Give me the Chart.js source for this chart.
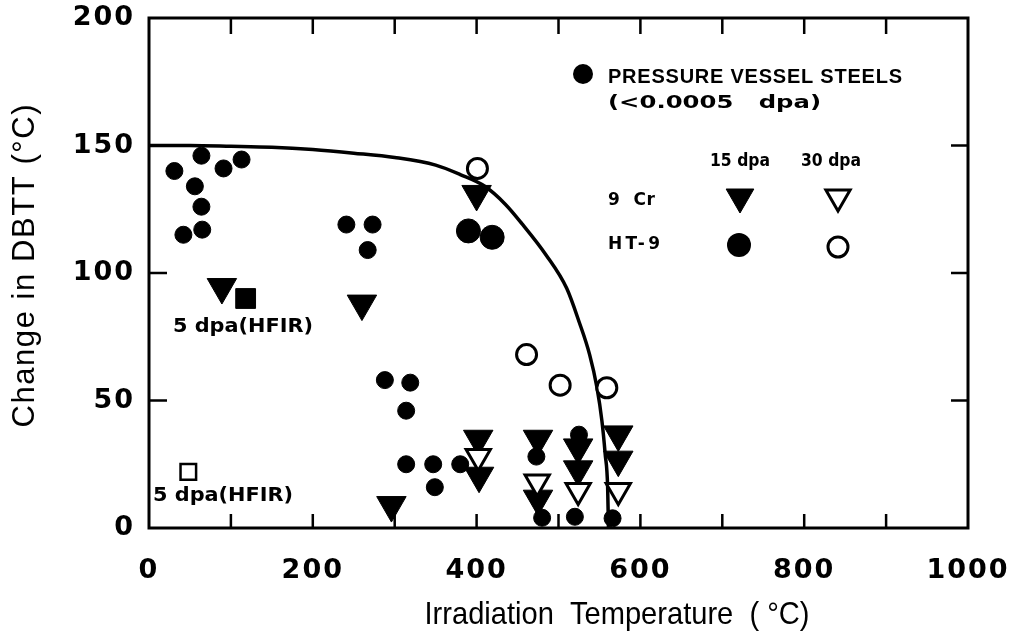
<!DOCTYPE html>
<html>
<head>
<meta charset="utf-8">
<script src="https://cdn.jsdelivr.net/npm/chart.js@4.4.1/dist/chart.umd.min.js"></script>
<style>
  html, body { margin: 0; padding: 0; background: #fff; }
  canvas { display: block; }
</style>
</head>
<body>
<canvas id="chart" width="1009" height="642"></canvas>
<script>
// Axis ticks
const xTickLabels = [0, 200, 400, 600, 800, 1000];
const yTickLabels = [0, 50, 100, 150, 200];
const xMinorTicks = [100, 200, 300, 400, 500, 600, 700, 800, 900];
const yMinorTicks = [50, 100, 150];

// Pressure vessel steels (<0.0005 dpa): irradiation temperature, change in DBTT
const pvSteelT = [31, 42, 56, 64, 64, 65, 91, 113, 241, 267, 273, 288, 314, 314, 319, 347, 349, 380];
const pvSteelD = [140, 115, 134, 146, 126, 117, 141, 144.5, 119, 109, 119, 58, 46, 25, 57, 25, 16, 25];

// 9 Cr, 15 dpa
const cr9At15T = [400, 260, 296, 402, 403, 475, 475, 524, 524, 573, 573];
const cr9At15D = [131, 88, 9, 35, 20.5, 35, 11.5, 31.6, 23, 36.7, 26.8];

// 9 Cr, 30 dpa
const cr9At30T = [402, 474, 524, 573];
const cr9At30D = [28, 18, 14.7, 14.7];

// HT-9, 15 dpa
const ht9At15T = [390, 419];
const ht9At15D = [116.5, 114];
const ht9At15LowT = [473, 480, 520, 525, 566];
const ht9At15LowD = [28, 4, 4.4, 36.6, 3.8];

// HT-9, 30 dpa
const ht9At30T = [401, 461, 502, 559];
const ht9At30D = [141, 68, 56, 55];

// HFIR, 5 dpa
const hfirTriT = [89];
const hfirTriD = [94.5];
const hfirFilledSqT = [118];
const hfirFilledSqD = [90];
const hfirOpenSqT = [48];
const hfirOpenSqD = [22];

// Trend curve
const curveT = [0, 50, 100, 150, 200, 250, 300, 350, 380, 410, 435, 455, 485, 510, 525, 538, 547, 553, 557, 560, 561];
const curveD = [150, 150, 149.7, 149.3, 148.4, 147, 145.3, 142.3, 138.6, 134, 127, 119.5, 107, 94, 81, 68, 55, 42, 29, 16, 0];

// Text labels placed in data space
const hfirLabels = [
  { text: '5 dpa(HFIR)', t: 29.3, d: 78.9 },
  { text: '5 dpa(HFIR)', t: 4.9, d: 12.8 }
];

const pts = (xs, ys) => xs.map((v, i) => ({ x: v, y: ys[i] }));

// Draws text into a given width: squeezes or stretches the glyphs, or spreads the letters
function fitText(ctx, text, x, y, width, font, align, stretch) {
  ctx.save();
  ctx.font = font;
  ctx.letterSpacing = '0px';
  ctx.textBaseline = 'middle';
  ctx.textAlign = 'left';
  const n = [...text].length;
  const w0 = ctx.measureText(text).width;
  const left = align === 'center' ? x - width / 2 : x;
  if (w0 > width || stretch) {
    ctx.translate(left, y);
    ctx.scale(width / w0, 1);
    ctx.fillText(text, 0, 0);
  } else {
    ctx.letterSpacing = ((width - w0) / Math.max(1, n - 1)) + 'px';
    ctx.fillText(text, left, y);
  }
  ctx.restore();
}

const BLACK = '#000';
const tickFont = { family: '"DejaVu Sans", sans-serif', size: 27, weight: 'bold' };
const SANS = '"Liberation Sans", Arial, sans-serif';
const WIDE = '"DejaVu Sans", sans-serif';

const spacingPlugin = {
  id: 'tickSpacing',
  beforeDraw(chart) { chart.ctx.letterSpacing = '2px'; }
};

const framePlugin = {
  id: 'frame',
  beforeDatasetsDraw(chart) {
    const { ctx, chartArea: a, scales: { x, y } } = chart;
    ctx.save();
    ctx.letterSpacing = '0px';
    ctx.strokeStyle = BLACK;
    ctx.lineWidth = 3;
    ctx.strokeRect(a.left, a.top, a.right - a.left, a.bottom - a.top);
    ctx.lineWidth = 2.5;
    ctx.beginPath();
    xMinorTicks.forEach(v => {
      const p = x.getPixelForValue(v);
      ctx.moveTo(p, a.bottom); ctx.lineTo(p, a.bottom - 14);
      ctx.moveTo(p, a.top); ctx.lineTo(p, a.top + 16);
    });
    yMinorTicks.forEach(v => {
      const p = y.getPixelForValue(v);
      ctx.moveTo(a.left, p); ctx.lineTo(a.left + 18, p);
      ctx.moveTo(a.right, p); ctx.lineTo(a.right - 17, p);
    });
    ctx.stroke();
    ctx.restore();
  }
};

const annotationPlugin = {
  id: 'annotations',
  afterDraw(chart) {
    const { ctx, chartArea: a, scales: { x, y } } = chart;
    const dp = Chart.helpers.drawPoint;
    ctx.save();
    ctx.fillStyle = BLACK;
    ctx.strokeStyle = BLACK;

    // Axis titles
    fitText(ctx, 'Irradiation  Temperature  ( °C)', 617, 615, 385, '32px ' + SANS, 'center');
    ctx.save();
    ctx.translate(25, 266);
    ctx.rotate(-Math.PI / 2);
    fitText(ctx, 'Change in DBTT (°C)', 0, 0, 323, '31px ' + SANS, 'center');
    ctx.restore();

    // HFIR labels
    const lf = 'bold 20px ' + WIDE;
    hfirLabels.forEach(l => {
      fitText(ctx, l.text, x.getPixelForValue(l.t), y.getPixelForValue(l.d), 140, lf, 'left', true);
    });

    // Key
    const L = a.left, T = a.top;
    const kf = 'bold 17px ' + WIDE;
    ctx.fillStyle = BLACK;
    dp(ctx, { pointStyle: 'circle', radius: 10, borderWidth: 0 }, L + 434, T + 56);
    fitText(ctx, 'PRESSURE VESSEL STEELS', L + 459, T + 59, 294, 'bold 20px ' + SANS, 'left');
    fitText(ctx, '(<0.0005   dpa)', L + 459, T + 85, 213, 'bold 18px ' + WIDE, 'left', true);
    fitText(ctx, '15 dpa', L + 561, T + 144, 60, kf, 'left');
    fitText(ctx, '30 dpa', L + 652, T + 144, 60, kf, 'left');
    fitText(ctx, '9  Cr', L + 459, T + 183, 47, kf, 'left');
    fitText(ctx, 'HT-9', L + 459, T + 227, 52, kf, 'left');

    ctx.lineWidth = 1;
    dp(ctx, { pointStyle: 'triangle', rotation: 180, radius: 16, borderWidth: 1 }, L + 591, T + 179);
    dp(ctx, { pointStyle: 'circle', radius: 12, borderWidth: 0 }, L + 590, T + 227);
    ctx.fillStyle = '#fff';
    ctx.lineWidth = 3;
    dp(ctx, { pointStyle: 'triangle', rotation: 180, radius: 14, borderWidth: 3 }, L + 689, T + 179);
    dp(ctx, { pointStyle: 'circle', radius: 10, borderWidth: 3 }, L + 689, T + 229);
    ctx.restore();
  }
};

const filled = { backgroundColor: BLACK, borderColor: BLACK, showLine: false };
const hollow = { backgroundColor: '#fff', borderColor: BLACK, showLine: false };

function noOverhang(s) {
  s.paddingLeft = 0; s.paddingRight = 0; s.paddingTop = 0; s.paddingBottom = 0;
}

new Chart(document.getElementById('chart'), {
  type: 'scatter',
  data: {
    datasets: [
      { label: 'HT-9 30 dpa', data: pts(ht9At30T, ht9At30D), ...hollow, pointStyle: 'circle', pointRadius: 10, borderWidth: 3, order: 1 },
      { label: '9 Cr 30 dpa', data: pts(cr9At30T, cr9At30D), ...hollow, pointStyle: 'triangle', rotation: 180, pointRadius: 14, borderWidth: 3, order: 2 },
      { label: 'HFIR 5 dpa (open)', data: pts(hfirOpenSqT, hfirOpenSqD), ...hollow, pointStyle: 'rect', pointRadius: 11, borderWidth: 2.5, order: 3 },
      { label: 'HT-9 15 dpa', data: pts(ht9At15T, ht9At15D), ...filled, pointStyle: 'circle', pointRadius: 12, borderWidth: 1, order: 4 },
      { label: 'HT-9 15 dpa (low)', data: pts(ht9At15LowT, ht9At15LowD), ...filled, pointStyle: 'circle', pointRadius: 8.5, borderWidth: 1, order: 5 },
      { label: '9 Cr 15 dpa', data: pts(cr9At15T, cr9At15D), ...filled, pointStyle: 'triangle', rotation: 180, pointRadius: 17, borderWidth: 1, order: 6 },
      { label: 'HFIR 5 dpa triangle', data: pts(hfirTriT, hfirTriD), ...filled, pointStyle: 'triangle', rotation: 180, pointRadius: 17, borderWidth: 1, order: 7 },
      { label: 'HFIR 5 dpa square', data: pts(hfirFilledSqT, hfirFilledSqD), ...filled, pointStyle: 'rect', pointRadius: 14, borderWidth: 1, order: 8 },
      { label: 'Pressure vessel steels', data: pts(pvSteelT, pvSteelD), ...filled, pointStyle: 'circle', pointRadius: 8.5, borderWidth: 1, order: 9 },
      { label: 'Trend', data: pts(curveT, curveD), showLine: true, borderColor: BLACK, borderWidth: 3.5, pointRadius: 0, cubicInterpolationMode: 'monotone', fill: false, order: 10 }
    ]
  },
  options: {
    responsive: false,
    animation: false,
    events: [],
    layout: { padding: { left: 0, right: 41, top: 14, bottom: 0 } },
    plugins: { legend: { display: false }, tooltip: { enabled: false } },
    scales: {
      x: {
        type: 'linear', min: 0, max: 1000,
        afterFit(s) { s.height = 114; noOverhang(s); },
        afterBuildTicks(s) { s.ticks = xTickLabels.map(v => ({ value: v })); },
        grid: { display: false, drawTicks: false },
        border: { display: false },
        ticks: { color: BLACK, font: tickFont, padding: 27, maxRotation: 0, autoSkip: false, callback: v => String(v) }
      },
      y: {
        type: 'linear', min: 0, max: 200,
        afterFit(s) { s.width = 149; noOverhang(s); },
        afterBuildTicks(s) { s.ticks = yTickLabels.map(v => ({ value: v })); },
        grid: { display: false, drawTicks: false },
        border: { display: false },
        ticks: { color: BLACK, font: tickFont, padding: 14, autoSkip: false, callback: v => String(v) }
      }
    }
  },
  plugins: [spacingPlugin, framePlugin, annotationPlugin]
});
</script>
</body>
</html>
